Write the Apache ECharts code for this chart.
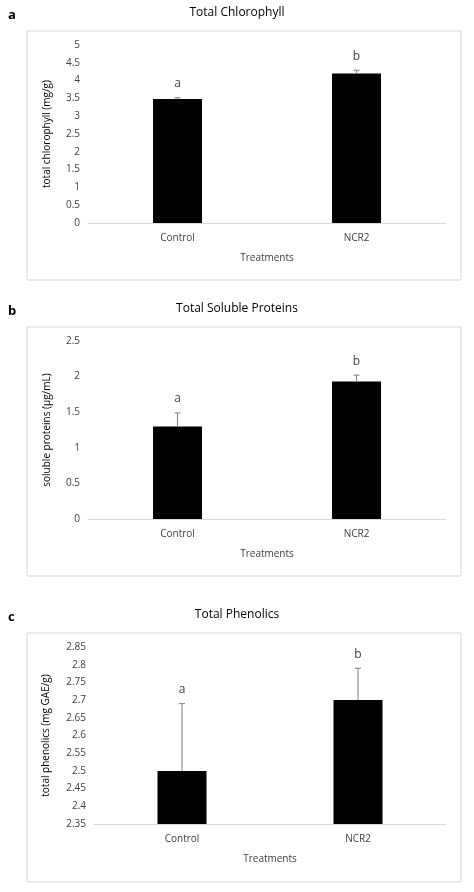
<!DOCTYPE html>
<html><head><meta charset="utf-8">
<script src="https://cdn.jsdelivr.net/npm/echarts@6/dist/echarts.min.js"></script>
<style>html,body{margin:0;padding:0;background:#fff}#c{width:474px;height:892px}</style>
</head><body><div id="c"></div>
<script>
const categories = ['Control', 'NCR2'];
const titles = ['Total Chlorophyll', 'Total Soluble Proteins', 'Total Phenolics'];
const panelLetters = ['a', 'b', 'c'];
const yNames = ['total chlorophyll (mg/g)', 'soluble proteins (µg/mL)', 'total phenolics (mg GAE/g)'];
const chlorophyll = [3.48, 4.2];
const chlorophyllErr = [0.04, 0.09];
const proteins = [1.3, 1.93];
const proteinsErr = [0.19, 0.09];
const phenolics = [2.5, 2.7];
const phenolicsErr = [0.19, 0.09];
const sigLetters = ['a', 'b'];
const yMin = [0, 0, 2.35], yMax = [5, 2.5, 2.85], yInt = [0.5, 0.5, 0.05];

const values = [chlorophyll, proteins, phenolics];
const errs = [chlorophyllErr, proteinsErr, phenolicsErr];
const font = 'Open Sans';
const gridTops = [45, 341, 647], gridH = [178, 178, 177], gridL = [88, 88, 94];
const boxTops = [31, 327, 633];
const nameGaps = [36, 36, 43];

const grid = [], xAxis = [], yAxis = [], series = [], graphic = [];
for (let i = 0; i < 3; i++) {
  grid.push({left: gridL[i], right: 28, top: gridTops[i], height: gridH[i]});
  xAxis.push({type: 'category', gridIndex: i, data: categories,
    axisLine: {lineStyle: {color: '#d9d9d9'}}, axisTick: {show: false},
    axisLabel: {color: '#404040', fontFamily: font, fontSize: 10, margin: 10},
    name: 'Treatments', nameLocation: 'middle', nameGap: 30,
    nameTextStyle: {color: '#404040', fontFamily: font, fontSize: 10}});
  yAxis.push({type: 'value', gridIndex: i, min: yMin[i], max: yMax[i], interval: yInt[i],
    splitLine: {show: false}, axisLine: {show: false}, axisTick: {show: false},
    axisLabel: {color: '#404040', fontFamily: font, fontSize: 10, margin: 8},
    name: yNames[i], nameLocation: 'middle', nameGap: nameGaps[i],
    nameTextStyle: {color: '#000', fontFamily: font, fontSize: 10}});
  series.push({type: 'bar', xAxisIndex: i, yAxisIndex: i, data: values[i], barWidth: 49,
    itemStyle: {color: '#000'}, silent: true, z: 2});
  const v = values[i], e = errs[i];
  series.push({type: 'custom', xAxisIndex: i, yAxisIndex: i, z: 3,
    data: categories.map((c, k) => [k, v[k], v[k] + e[k], sigLetters[k]]),
    renderItem: (params, api) => {
      const p0 = api.coord([api.value(0), api.value(1)]);
      const p1 = api.coord([api.value(0), api.value(2)]);
      return {type: 'group', children: [
        {type: 'line', shape: {x1: p0[0], y1: p0[1], x2: p1[0], y2: p1[1]}, style: {stroke: '#7f7f7f', lineWidth: 1}},
        {type: 'line', shape: {x1: p1[0] - 3, y1: p1[1], x2: p1[0] + 3, y2: p1[1]}, style: {stroke: '#7f7f7f', lineWidth: 1}},
        {type: 'text', x: p1[0], y: p1[1] - 8, style: {text: api.value(3), fill: '#404040', font: '12px "Open Sans"', align: 'center', verticalAlign: 'bottom'}}
      ]};
    }});
  graphic.push({type: 'rect', shape: {x: 27, y: boxTops[i], width: 434, height: 249},
    style: {fill: 'none', stroke: '#d9d9d9', lineWidth: 1}});
  graphic.push({type: 'text', left: 'center', top: boxTops[i] - 24,
    style: {text: titles[i], fill: '#000', font: '12px "Open Sans"'}});
  graphic.push({type: 'text', left: 8, top: boxTops[i] - 22,
    style: {text: panelLetters[i], fill: '#000', font: 'bold 13px "Open Sans"'}});
}
const chart = echarts.init(document.getElementById('c'));
chart.setOption({animation: false, grid, xAxis, yAxis, series, graphic});
</script></body></html>
